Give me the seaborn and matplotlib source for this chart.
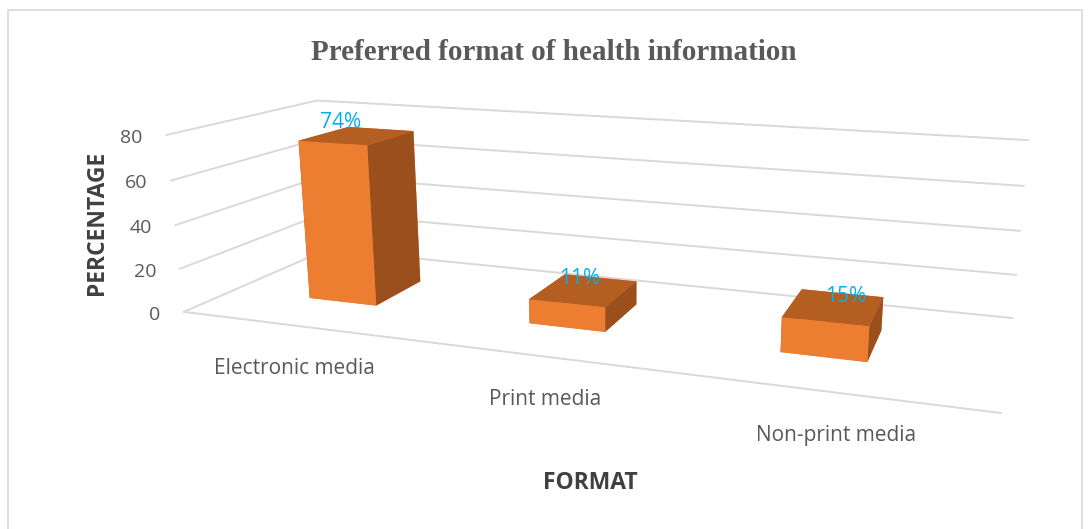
import numpy as np
import matplotlib
matplotlib.use("Agg")
import matplotlib.pyplot as plt
import matplotlib.transforms as mtransforms
from matplotlib.patches import Rectangle
import seaborn as sns

# ---- data ----
categories = ["Electronic media", "Print media", "Non-print media"]
values = [74, 11, 15]
value_labels = ["74%", "11%", "15%"]
z_ticks = [0, 20, 40, 60, 80]

sns.set_theme(style="white")
plt.rcParams["font.family"] = ["Open Sans", "DejaVu Sans"]

front_col = sns.color_palette(["#ED7D31"])[0]
top_col = "#B55E22"
side_col = "#9A4F1D"
grid_col = "#D9D9D9"
text_col = "#595959"
title_col = "#404040"

fig = plt.figure(figsize=(10.9, 5.29), dpi=100)
fig.patch.set_facecolor("white")

# perspective 3-D axes; the view box is centred near the front-left corner
ax = fig.add_axes([-0.244395, -1.18416, 1.62173, 3.34155], projection="3d")
ax.computed_zorder = False
ax.set_axis_off()
ax.set_xlim(-1.2646, 4.7354)
ax.set_ylim(-0.6734, 1.3266)
ax.set_zlim(-41.4819, 118.5181)
ax.set_box_aspect((4.3994, 1.4277, 1.0))
ax.view_init(elev=14.9412, azim=-71.3971, roll=-0.2340)
ax.set_proj_type("persp", focal_length=0.1249)

n = len(categories)
slots = np.arange(n) + 0.5

# gridlines on the back wall and the left side wall, plus the floor edge
for z in z_ticks:
    ax.plot([0, n], [1, 1], [z, z], color=grid_col, lw=1.4, zorder=1, clip_on=False)
    ax.plot([0, 0], [0, 1], [z, z], color=grid_col, lw=1.4, zorder=1, clip_on=False)
ax.plot([0, n], [0, 0], [0, 0], color=grid_col, lw=1.4, zorder=1, clip_on=False)

# bar centres along the category axis
bw, bd = 0.30, 0.36
centers = 0.5 + 0.95 * np.arange(n)

# bars as 3-D boxes; face order is -z, +z, -y, +y, -x, +x
for i, v in enumerate(values):
    coll = ax.bar3d(centers[i] - bw / 2, 0.5 - bd / 2, 0, bw, bd, v,
                    color=[front_col, top_col, front_col, front_col, side_col, side_col],
                    shade=False, edgecolor="none", zorder=3 + i)
    coll.set_clip_on(False)

# value labels over the bar tops
for i, (v, lab) in enumerate(zip(values, value_labels)):
    tr = mtransforms.offset_copy(ax.transData, fig=fig, x=-12, y=2, units="points")
    ax.text(slots[i], 0.5, v, lab, color="#00B0F0", fontsize=15,
            ha="center", va="bottom", transform=tr, zorder=10)

# value-axis tick labels beside the front-left edge
for z in z_ticks:
    tr = mtransforms.offset_copy(ax.transData, fig=fig, x=-17, y=-2, units="points")
    ax.text(0, 0, z, str(z), color=text_col, fontsize=14, ha="right",
            va="center", transform=tr, zorder=10)

# category labels in front of the floor
for i, c in enumerate(categories):
    tr = mtransforms.offset_copy(ax.transData, fig=fig, x=-1, y=-30.5, units="points")
    ax.text(slots[i], 0, 0, c, color=text_col, fontsize=15, ha="center",
            va="center", transform=tr, zorder=10)

fig.text(0.508, 0.901, "Preferred format of health information",
         family="Liberation Serif", fontweight="bold", fontsize=21,
         color=text_col, ha="center", va="center")
fig.text(0.089, 0.578, "PERCENTAGE", rotation=90, fontweight="bold",
         fontsize=16.5, color=title_col, ha="center", va="center")
fig.text(0.542, 0.087, "FORMAT", fontweight="bold", fontsize=16.5,
         color=title_col, ha="center", va="center")

fig.add_artist(Rectangle((8 / 1090, -0.02), 1074 / 1090, 0.02 + 519 / 529,
                         transform=fig.transFigure, fill=False,
                         edgecolor="#D9D9D9", lw=1.2))

fig.savefig("out.png", dpi=100)
